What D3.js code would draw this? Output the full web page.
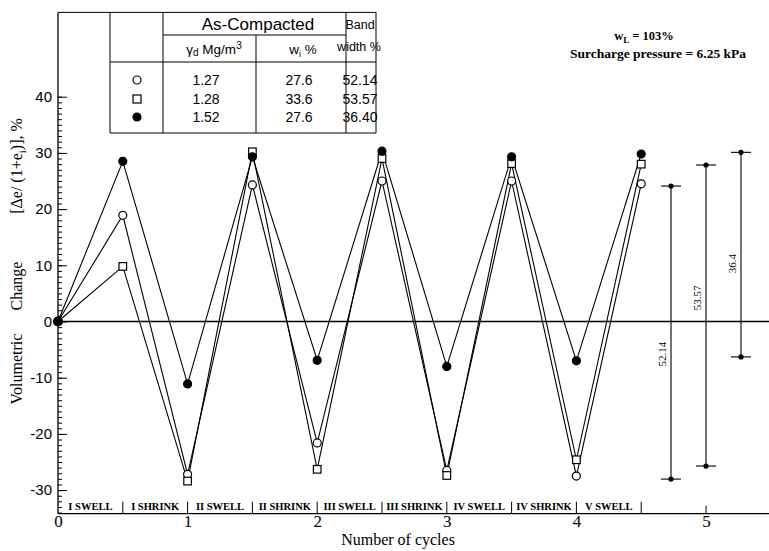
<!DOCTYPE html>
<html>
<head>
<meta charset="utf-8">
<script src="https://cdn.jsdelivr.net/npm/d3@7/dist/d3.min.js"></script>
<style>
  html, body { margin: 0; padding: 0; background: #fff; }
  svg { display: block; }
  .serif { font-family: "Liberation Serif", "DejaVu Serif", serif; }
  .sans { font-family: "Liberation Sans", Arial, sans-serif; }
</style>
</head>
<body>
<svg id="chart" width="769" height="551"></svg>
<script>
// Swell-shrink cycles: x is the number of cycles, y the volumetric change (%)
const cycles       = [0, 0.5, 1, 1.5, 2, 2.5, 3, 3.5, 4, 4.5];
const openCircle   = [0, 18.9, -27.2, 24.3, -21.6, 25.0, -26.5, 25.0, -27.5, 24.5];
const openSquare   = [0, 9.8, -28.4, 30.2, -26.3, 29.0, -27.4, 28.1, -24.6, 28.0];
const filledCircle = [0, 28.5, -11.1, 29.3, -6.9, 30.3, -8.0, 29.3, -7.0, 29.8];

// Phase labels between half-cycle dividers
const phaseLabels = ["I SWELL", "I SHRINK", "II SWELL", "II SHRINK", "III SWELL",
                     "III SHRINK", "IV SWELL", "IV SHRINK", "V SWELL"];

// Band-width bars drawn at the right
const bandPos   = [4.73, 5.0, 5.27];
const bandTop   = [24.1, 27.85, 30.1];
const bandWidth = [52.14, 53.57, 36.4];
const bandText  = ["52.14", "53.57", "36.4"];

// Legend table contents
const tableSymbols = ["circle", "square", "dot"];
const dryDensity   = ["1.27", "1.28", "1.52"];
const waterContent = ["27.6", "33.6", "27.6"];
const bandColumn   = ["52.14", "53.57", "36.40"];

const xTicks = [0, 1, 2, 3, 4, 5];
const yTicks = [-30, -20, -10, 0, 10, 20, 30, 40];

const svg = d3.select("#chart");

const x = d3.scaleLinear().domain([0, 5]).range([58, 706]);
const y = d3.scaleLinear().domain([0, 40]).range([321.5, 96.7]);
const yBottom = -34.2, yTop = 55;

// ---- axes ----
const yAxisG = svg.append("g").attr("transform", `translate(${x(0)},0)`);
// minor ticks every unit, pointing into the plot
yAxisG.call(d3.axisRight(y).tickValues(d3.range(-34, 41, 1)).tickSize(4).tickFormat(""))
  .call(g => g.select(".domain").remove());
yAxisG.append("g").call(d3.axisRight(y).tickValues(yTicks).tickSize(9).tickFormat(""))
  .call(g => g.select(".domain").remove());
svg.append("g").attr("transform", `translate(${x(0)},0)`)
  .call(d3.axisLeft(y).tickValues(yTicks).tickSize(0).tickPadding(6).tickFormat(d => d < 0 ? "-" + Math.abs(d) : d))
  .call(g => g.select(".domain").remove())
  .selectAll("text").attr("class", "sans").style("font-size", "15px").attr("fill", "#000");
svg.selectAll(".tick line").attr("stroke", "#000");

// frame: left axis, bottom axis, top edge over the table
svg.append("line").attr("x1", x(0)).attr("x2", x(0)).attr("y1", y(yTop)).attr("y2", y(yBottom))
  .attr("stroke", "#000").attr("stroke-width", 1.3);
svg.append("line").attr("x1", x(0)).attr("x2", 769).attr("y1", y(yBottom)).attr("y2", y(yBottom))
  .attr("stroke", "#000").attr("stroke-width", 1.3);
svg.append("line").attr("x1", x(0)).attr("x2", 376).attr("y1", y(yTop)).attr("y2", y(yTop))
  .attr("stroke", "#000").attr("stroke-width", 1);

// x tick labels
svg.append("g").attr("transform", `translate(0,${y(yBottom)})`)
  .call(d3.axisBottom(x).tickValues(xTicks).tickSize(0).tickPadding(1).tickFormat(d3.format("d")))
  .call(g => g.select(".domain").remove())
  .selectAll("text").attr("class", "serif").style("font-size", "17px").attr("fill", "#000");

svg.append("text").attr("class", "serif").attr("x", 398).attr("y", 545)
  .attr("text-anchor", "middle").style("font-size", "16px").text("Number of cycles");

// y axis title, three word groups spaced along the axis
const tg = svg.append("g").attr("transform", "translate(22,0)");
tg.append("text").attr("class", "serif").attr("transform", `translate(0,369) rotate(-90)`)
  .attr("text-anchor", "middle").style("font-size", "16px").text("Volumetric");
tg.append("text").attr("class", "serif").attr("transform", `translate(0,286) rotate(-90)`)
  .attr("text-anchor", "middle").style("font-size", "16px").text("Change");
const t3 = tg.append("text").attr("class", "serif").attr("transform", `translate(0,166) rotate(-90)`)
  .attr("text-anchor", "middle").style("font-size", "16px");
t3.append("tspan").text("[Δe/ (1+e");
t3.append("tspan").attr("dy", 4).style("font-size", "11px").text("i");
t3.append("tspan").attr("dy", -4).text(")], %");

// zero line
svg.append("line").attr("x1", x(0)).attr("x2", 769).attr("y1", y(0)).attr("y2", y(0))
  .attr("stroke", "#000").attr("stroke-width", 1.3);

// phase dividers and labels
const dividerY0 = y(yBottom) - 12;
d3.range(1, 10).forEach(i => {
  svg.append("line").attr("x1", x(i / 2)).attr("x2", x(i / 2))
    .attr("y1", dividerY0).attr("y2", y(yBottom)).attr("stroke", "#000").attr("stroke-width", 1);
});
svg.append("line").attr("x1", x(5)).attr("x2", x(5))
  .attr("y1", y(yBottom) - 8).attr("y2", y(yBottom)).attr("stroke", "#000").attr("stroke-width", 1);
svg.selectAll(".phase").data(phaseLabels).join("text")
  .attr("class", "serif phase")
  .attr("x", (d, i) => x(i / 2 + 0.25)).attr("y", y(yBottom) - 4)
  .attr("text-anchor", "middle").style("font-size", "10.5px").style("font-weight", "bold")
  .text(d => d);

// ---- series ----
const line = d3.line().x(d => x(d[0])).y(d => y(d[1]));
const series = [
  { name: "circle", values: openCircle },
  { name: "square", values: openSquare },
  { name: "dot",    values: filledCircle }
];
series.forEach(s => {
  const pts = cycles.map((c, i) => [c, s.values[i]]);
  svg.append("path").datum(pts).attr("d", line)
    .attr("fill", "none").attr("stroke", "#000").attr("stroke-width", 1.1);
});

function drawMarker(g, kind, cx, cy, size) {
  if (kind === "square") {
    g.append("rect").attr("x", cx - size).attr("y", cy - size)
      .attr("width", size * 2).attr("height", size * 2)
      .attr("fill", "#fff").attr("stroke", "#000").attr("stroke-width", 1.2);
  } else {
    g.append("circle").attr("cx", cx).attr("cy", cy).attr("r", size)
      .attr("fill", kind === "dot" ? "#000" : "#fff")
      .attr("stroke", "#000").attr("stroke-width", 1.2);
  }
}
const mk = svg.append("g");
series.forEach(s => {
  cycles.forEach((c, i) => {
    if (i === 0) return;
    drawMarker(mk, s.name, x(c), y(s.values[i]), s.name === "square" ? 3.8 : 4);
  });
});
drawMarker(mk, "dot", x(cycles[0]), y(filledCircle[0]), 4.5);

// ---- band-width bars ----
bandPos.forEach((p, i) => {
  const top = bandTop[i], bot = bandTop[i] - bandWidth[i];
  const g = svg.append("g");
  g.append("line").attr("x1", x(p)).attr("x2", x(p)).attr("y1", y(top)).attr("y2", y(bot))
    .attr("stroke", "#000").attr("stroke-width", 1.1);
  [top, bot].forEach(v => {
    g.append("line").attr("x1", x(p) - 10).attr("x2", x(p) + 10).attr("y1", y(v)).attr("y2", y(v))
      .attr("stroke", "#000").attr("stroke-width", 1.1);
    g.append("circle").attr("cx", x(p)).attr("cy", y(v)).attr("r", 2.6).attr("fill", "#000");
  });
});
const bandLabelY = [-5.8, 4.2, 10.3];
bandPos.forEach((p, i) => {
  svg.append("text").attr("class", "serif")
    .attr("transform", `translate(${x(p) - 5},${y(bandLabelY[i])}) rotate(-90)`)
    .attr("text-anchor", "middle").style("font-size", "11px").text(bandText[i]);
});

// ---- notes at top right ----
const n1 = svg.append("text").attr("class", "serif").attr("x", 644).attr("y", 40)
  .attr("text-anchor", "middle").style("font-size", "12.5px").style("font-weight", "bold");
n1.append("tspan").text("w");
n1.append("tspan").attr("dy", 3).style("font-size", "9px").text("L");
n1.append("tspan").attr("dy", -3).text(" = 103%");
svg.append("text").attr("class", "serif").attr("x", 658).attr("y", 58)
  .attr("text-anchor", "middle").style("font-size", "13.5px").style("font-weight", "bold")
  .text("Surcharge pressure = 6.25 kPa");

// ---- legend table ----
const tbl = svg.append("g");
const colX = [110, 163, 256, 346, 376];
const rowY = [12, 35, 62, 133];
const tl = (x1, y1, x2, y2) => tbl.append("line").attr("x1", x1).attr("y1", y1).attr("x2", x2).attr("y2", y2)
  .attr("stroke", "#000").attr("stroke-width", 1);
tl(colX[0], rowY[0], colX[0], rowY[3]);
tl(colX[1], rowY[0], colX[1], rowY[3]);
tl(colX[2], rowY[1], colX[2], rowY[3]);
tl(colX[3], rowY[0], colX[3], rowY[3]);
tl(colX[4], rowY[0], colX[4], rowY[3]);
tl(colX[1], rowY[1], colX[3], rowY[1]);
tl(colX[0], rowY[2], colX[4], rowY[2]);
tl(colX[0], rowY[3], colX[4], rowY[3]);

const txt = (tx, ty, s, size) => tbl.append("text").attr("class", "sans").attr("x", tx).attr("y", ty)
  .attr("text-anchor", "middle").style("font-size", size + "px").text(s);
txt(258, 30, "As-Compacted", 17);
txt(360, 29, "Band", 12.5);
txt(359, 51, "width %", 12.5);
const h1 = tbl.append("text").attr("class", "sans").attr("x", 214).attr("y", 54)
  .attr("text-anchor", "middle").style("font-size", "13.5px");
h1.append("tspan").text("γ");
h1.append("tspan").attr("dy", 2).style("font-size", "10px").text("d");
h1.append("tspan").attr("dy", -2).text(" Mg/m");
h1.append("tspan").attr("dy", -5).style("font-size", "10px").text("3");
const h2 = tbl.append("text").attr("class", "sans").attr("x", 303).attr("y", 54)
  .attr("text-anchor", "middle").style("font-size", "13.5px");
h2.append("tspan").text("w");
h2.append("tspan").attr("dy", 3).style("font-size", "9px").text("i");
h2.append("tspan").attr("dy", -3).text(" %");

const rowsY = [80, 99, 117];
tableSymbols.forEach((s, i) => {
  drawMarker(tbl, s, 137, rowsY[i], 4);
  txt(206, rowsY[i] + 5, dryDensity[i], 14);
  txt(299, rowsY[i] + 5, waterContent[i], 14);
  txt(360, rowsY[i] + 5, bandColumn[i], 14);
});
</script>
</body>
</html>
